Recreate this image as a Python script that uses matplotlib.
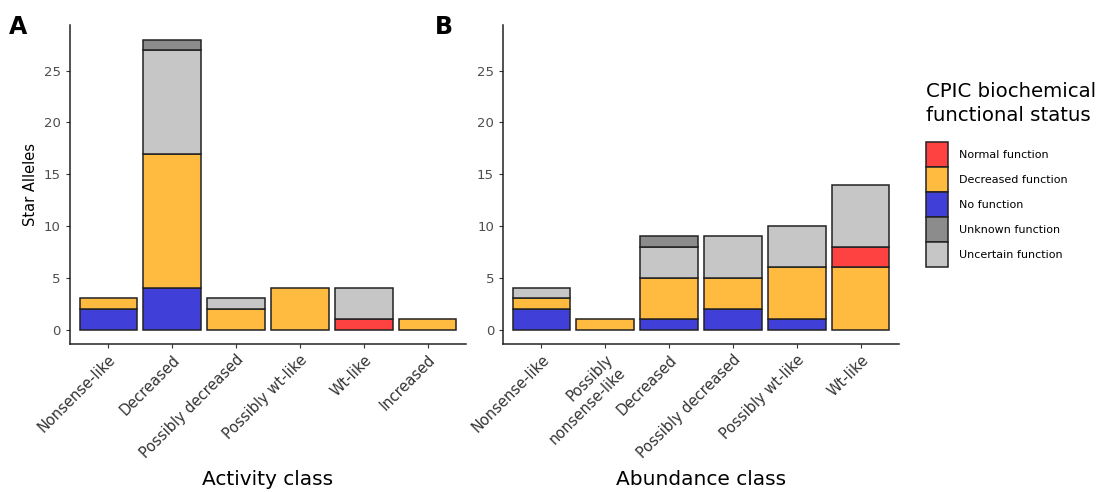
import matplotlib
matplotlib.use("Agg")
import matplotlib.pyplot as plt
from matplotlib.patches import Patch
import numpy as np

# ---- data ----
status = ["No function", "Decreased function", "Normal function",
          "Uncertain function", "Unknown function"]   # stacking order, bottom -> top
colors = {"Normal function": "#fe4242", "Decreased function": "#ffbb40",
          "No function": "#4040d8", "Unknown function": "#8c8c8c",
          "Uncertain function": "#c6c6c6"}
legend_order = ["Normal function", "Decreased function", "No function",
                "Unknown function", "Uncertain function"]

activity_cls = ["Nonsense-like", "Decreased", "Possibly decreased",
                "Possibly wt-like", "Wt-like", "Increased"]
act_no = [2, 4, 0, 0, 0, 0]
act_dec = [1, 13, 2, 4, 0, 1]
act_norm = [0, 0, 0, 0, 1, 0]
act_unc = [0, 10, 1, 0, 3, 0]
act_unk = [0, 1, 0, 0, 0, 0]

abundance_cls = ["Nonsense-like", "Possibly\nnonsense-like", "Decreased",
                 "Possibly decreased", "Possibly wt-like", "Wt-like"]
abd_no = [2, 0, 1, 2, 1, 0]
abd_dec = [1, 1, 4, 3, 5, 6]
abd_norm = [0, 0, 0, 0, 0, 2]
abd_unc = [1, 0, 3, 4, 4, 6]
abd_unk = [0, 0, 1, 0, 0, 0]

fig = plt.figure(figsize=(11, 4.92), dpi=100)
axA = fig.add_axes([0.0636, 0.3008, 0.36, 0.648])
axB = fig.add_axes([0.4573, 0.3008, 0.36, 0.648])


def stacked(ax, cats, series, xlabel):
    x = np.arange(len(cats))
    bottom = np.zeros(len(cats))
    for name, vals in zip(status, series):
        vals = np.array(vals, dtype=float)
        m = vals > 0
        ax.bar(x[m], vals[m], bottom=bottom[m], width=0.9,
               color=colors[name], edgecolor="#222222", linewidth=1.1)
        bottom += vals
    ax.set_xlim(-0.6, len(cats) - 0.4)
    ax.set_ylim(-1.4, 29.4)
    ax.set_yticks([0, 5, 10, 15, 20, 25])
    ax.set_xticks(x)
    ax.set_xticklabels(cats, rotation=45, ha="right", rotation_mode="anchor",
                       fontsize=10.5, color="#333333")
    ax.tick_params(axis="y", labelsize=9.5, labelcolor="#4d4d4d",
                   length=3, color="#333333")
    ax.tick_params(axis="x", length=3, color="#333333", pad=3)
    for s in ["top", "right"]:
        ax.spines[s].set_visible(False)
    for s in ["left", "bottom"]:
        ax.spines[s].set_linewidth(1.1)
        ax.spines[s].set_color("#222222")
    ax.set_xlabel(xlabel, fontsize=14.5, labelpad=6)


stacked(axA, activity_cls, [act_no, act_dec, act_norm, act_unc, act_unk],
        "Activity class")
stacked(axB, abundance_cls, [abd_no, abd_dec, abd_norm, abd_unc, abd_unk],
        "Abundance class")
axA.set_ylabel("Star Alleles", fontsize=10.5, labelpad=4)

fig.text(0.008, 0.97, "A", fontsize=17, fontweight="bold", va="top")
fig.text(0.395, 0.97, "B", fontsize=17, fontweight="bold", va="top")

# legend keys ~22x25 px
handles = [Patch(facecolor=colors[n], edgecolor="#222222", linewidth=1.1)
           for n in legend_order]
leg = fig.legend(handles, legend_order, loc="upper left",
                 bbox_to_anchor=(0.837, 0.844), frameon=False,
                 title="CPIC biochemical\nfunctional status",
                 title_fontsize=14.2, fontsize=8,
                 handlelength=1.98, handleheight=3.08, handletextpad=1.0,
                 labelspacing=0.0, alignment="left", borderpad=0)
leg.get_title().set_linespacing(1.32)
leg._legend_box.sep = 12.5

fig.savefig("out.png", dpi=100)
